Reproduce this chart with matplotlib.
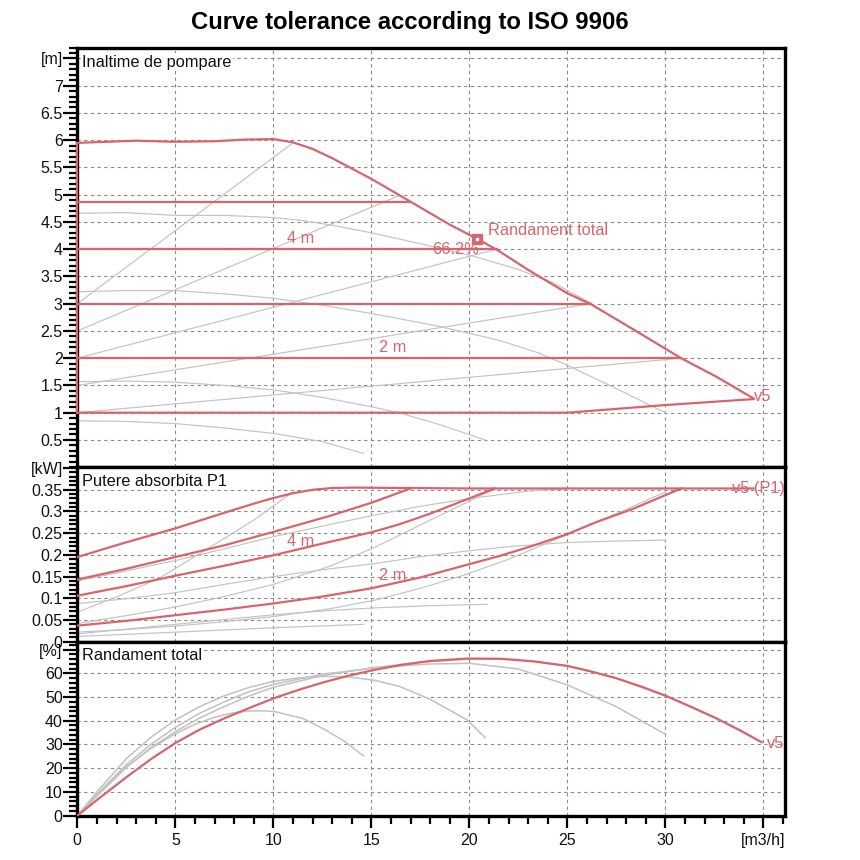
import matplotlib
matplotlib.use('Agg')
import matplotlib.pyplot as plt
from matplotlib.ticker import FixedLocator, MultipleLocator

plt.rcParams['font.family'] = ['Liberation Sans', 'DejaVu Sans']

# ---------------- data: head panel [m] ----------------
q_hmax = [0, 1.5, 3, 5, 7, 8.5, 10, 11, 12, 13, 14, 15, 16, 17, 18, 19, 20.4, 21.4, 23, 25, 26.2, 28.4, 30.8, 32.6, 34.5]
h_hmax = [5.95, 5.97, 5.99, 5.97, 5.98, 6.01, 6.02, 5.96, 5.84, 5.67, 5.48, 5.29, 5.08, 4.87, 4.66, 4.45, 4.19, 3.99, 3.62, 3.19, 2.99, 2.52, 2.00, 1.66, 1.26]
q_hmin = [0, 25, 30, 34.5]
h_hmin = [1.0, 1.0, 1.14, 1.25]
q_edge = [0, 0]
h_edge = [1.0, 5.95]
const_levels = [4.87, 4.0, 3.0, 2.0]
const_ends = [16.97, 21.4, 26.2, 30.8]

prop_q_start = [0, 0, 0, 0, 0]
prop_h_start = [3.0, 2.5, 2.0, 1.5, 1.0]
prop_q_end = [11.0, 16.46, 21.4, 26.2, 30.8]
prop_h_end = [5.95, 4.99, 4.0, 3.0, 2.0]

q_s1 = [0, 2.5, 5, 7.5, 10, 11.4, 13, 15, 17.5, 20.2, 22.4, 24.3, 26.2]
h_s1 = [4.66, 4.67, 4.62, 4.62, 4.58, 4.53, 4.44, 4.30, 4.10, 3.87, 3.64, 3.38, 3.01]
q_s2 = [0, 2.5, 5, 7.5, 10, 12.5, 15, 16.5, 18.5, 21.5, 23.5, 25, 27.5, 30]
h_s2 = [3.22, 3.24, 3.24, 3.18, 3.10, 2.97, 2.82, 2.72, 2.58, 2.33, 2.10, 1.87, 1.44, 1.0]
q_s3 = [0, 2.5, 5, 7.5, 10, 12.5, 15, 16.5, 18.5, 20.8]
h_s3 = [1.57, 1.58, 1.56, 1.50, 1.42, 1.28, 1.11, 0.99, 0.78, 0.50]
q_s4 = [0, 2.5, 5, 7.5, 10, 12.5, 14.6]
h_s4 = [0.85, 0.84, 0.80, 0.72, 0.62, 0.47, 0.25]

# ---------------- data: power panel [kW] ----------------
q_pmax = [0, 2.5, 5, 7.5, 9, 10, 11, 12, 13, 14, 20, 25, 30, 34.5]
p_pmax = [0.195, 0.229, 0.261, 0.297, 0.318, 0.331, 0.342, 0.350, 0.354, 0.355, 0.353, 0.353, 0.353, 0.353]
q_p487 = [0, 2.5, 5, 7.5, 10, 12.9, 15, 17.0]
p_p487 = [0.143, 0.168, 0.195, 0.222, 0.253, 0.290, 0.320, 0.353]
q_p4 = [0, 2.5, 5, 7.5, 10, 12.5, 15, 16.4, 18, 19.7, 21.3]
p_p4 = [0.106, 0.128, 0.152, 0.175, 0.199, 0.226, 0.252, 0.270, 0.295, 0.325, 0.353]
q_p2 = [0, 2.5, 5, 7.5, 10, 12.5, 15, 17.5, 19.7, 21.5, 23.1, 25, 26.5, 28.4, 30.8]
p_p2 = [0.037, 0.048, 0.061, 0.074, 0.088, 0.104, 0.123, 0.148, 0.175, 0.197, 0.219, 0.248, 0.276, 0.307, 0.353]

q_g1 = [0, 2.1, 4.2, 6.5, 9, 11.0]
p_g1 = [0.068, 0.105, 0.147, 0.210, 0.280, 0.345]
q_g2 = [0, 2.5, 5, 7.5, 10, 12.9, 15, 17.5, 20.2, 23, 25]
p_g2 = [0.140, 0.163, 0.187, 0.214, 0.242, 0.270, 0.290, 0.312, 0.331, 0.347, 0.352]
q_g3 = [0, 2.5, 5, 7.5, 10, 12.9, 15.2, 18, 21.2]
p_g3 = [0.042, 0.060, 0.080, 0.104, 0.132, 0.174, 0.218, 0.280, 0.350]
q_g4 = [0, 2.5, 5, 7.5, 10, 12.9, 15.2, 17.5, 19.7, 22, 24.8, 27.5, 30]
p_g4 = [0.088, 0.099, 0.113, 0.132, 0.150, 0.168, 0.180, 0.196, 0.208, 0.219, 0.228, 0.232, 0.234]
q_g5 = [0, 2.5, 5, 7.5, 10, 12.9, 15.2, 17.5, 19.7, 22, 24.8, 27.5, 30]
p_g5 = [0.022, 0.028, 0.036, 0.046, 0.058, 0.076, 0.096, 0.123, 0.153, 0.190, 0.243, 0.295, 0.345]
q_g6 = [0, 2.5, 5, 7.5, 10, 12.9, 15.2, 18, 20.9]
p_g6 = [0.018, 0.029, 0.040, 0.051, 0.062, 0.072, 0.078, 0.083, 0.086]
q_g7 = [0, 5, 10, 14.6]
p_g7 = [0.012, 0.022, 0.032, 0.040]

# ---------------- data: efficiency panel [%] ----------------
q_eff = [0, 1, 2.5, 3.75, 5, 6.25, 7.5, 8.75, 10.1, 11.4, 12.65, 13.9, 15.2, 16.5, 18, 19.9, 21.6, 23.3, 25, 26.2, 27.5, 28.8, 30.05, 31.3, 32.6, 33.8, 34.9]
e_eff = [0, 6.6, 16.2, 23.8, 30.6, 36.3, 41.0, 45.3, 49.7, 53.3, 56.4, 59.1, 61.5, 63.5, 65.2, 66.2, 66.1, 65.0, 63.1, 60.8, 57.9, 54.3, 50.4, 45.9, 41.0, 36.0, 31.0]
q_e1 = [0, 1, 2.4, 3.7, 5, 6, 7, 8, 8.7, 9.5, 10.1, 11.5, 12.6, 13.6, 14.6]
e_e1 = [0, 8.5, 20.0, 28.0, 34.5, 38.5, 41.5, 43.4, 44.1, 44.2, 43.8, 41.0, 36.4, 31.5, 25.2]
q_e2 = [0, 1, 2.5, 3.75, 5, 6.25, 7.5, 8.75, 10, 11.25, 12.5, 13.8, 15.2, 16.46, 18, 19.9, 20.8]
e_e2 = [0, 10.0, 24.0, 33.0, 40.3, 46.0, 50.5, 54.0, 56.6, 58.0, 58.7, 58.5, 57.0, 54.4, 49.0, 40.3, 32.9]
q_e3 = [0, 1, 2.5, 3.75, 5, 6.25, 7.5, 8.75, 10, 12.5, 15.2, 16.5, 18, 20, 22.5, 25, 27.5, 30]
e_e3 = [0, 9.0, 21.5, 30.0, 37.2, 43.2, 48.0, 52.2, 55.3, 59.6, 62.2, 63.1, 63.9, 64.2, 61.8, 55.1, 45.9, 34.3]
q_e4 = [0, 1, 2.5, 3.75, 5, 6.25, 7.5, 8.75, 10, 12.5, 15, 17.5, 20, 21.6, 23.3, 25, 27.5, 30.05, 32.6, 34.9]
e_e4 = [0, 8.3, 20.3, 28.6, 35.4, 41.2, 46.0, 50.4, 54.1, 59.0, 62.3, 64.6, 66.0, 66.1, 65.0, 63.1, 57.9, 50.4, 41.0, 31.0]

# ---------------- ticks ----------------
h_ticks = [0.5, 1, 1.5, 2, 2.5, 3, 3.5, 4, 4.5, 5, 5.5, 6, 6.5, 7, 7.5]
h_labels = ['0.5', '1', '1.5', '2', '2.5', '3', '3.5', '4', '4.5', '5', '5.5', '6', '6.5', '7', '[m]']
p_ticks = [0, 0.05, 0.1, 0.15, 0.2, 0.25, 0.3, 0.35, 0.4]
p_labels = ['0', '0.05', '0.1', '0.15', '0.2', '0.25', '0.3', '0.35', '[kW]']
e_ticks = [0, 10, 20, 30, 40, 50, 60, 70]
e_labels = ['0', '10', '20', '30', '40', '50', '60', '[%]']
x_ticks = [0, 5, 10, 15, 20, 25, 30, 35]
x_labels = ['0', '5', '10', '15', '20', '25', '30', '[m3/h]']

RED = '#d8646d'
GRAY = '#c3c3c3'
GRID = '#8a8a8a'
RLW = 1.6
GLW = 0.85
FS = 11.8

fig = plt.figure(figsize=(8.6, 8.6), dpi=100)
L, W = 77.3 / 860, (785 - 77.3) / 860
ax1 = fig.add_axes([L, 1 - 467.2 / 860, W, (467.2 - 47.5) / 860])
ax2 = fig.add_axes([L, 1 - 641.7 / 860, W, (641.7 - 467.2) / 860])
ax3 = fig.add_axes([L, 1 - 815.7 / 860, W, (815.7 - 641.7) / 860])

for ax in (ax1, ax2, ax3):
    ax.set_xlim(0, 36.1)
    ax.set_axisbelow(True)
    ax.xaxis.set_major_locator(FixedLocator(x_ticks))
    ax.grid(True, which='major', linestyle=(0, (3, 3)), color=GRID, linewidth=0.8)
    for s in ax.spines.values():
        s.set_linewidth(2.4)
        s.set_color('black')
    ax.tick_params(axis='y', which='major', direction='out', length=10, width=1.6,
                   labelsize=11.5, pad=0.5, colors='black', labelcolor='#111111')
    ax.tick_params(axis='y', which='minor', direction='out', length=6, width=1.6)

ax1.set_ylim(0, 7.7)
ax2.set_ylim(0, 0.402)
ax3.set_ylim(0, 73.3)

ax1.yaxis.set_major_locator(FixedLocator(h_ticks))
ax1.set_yticklabels(h_labels)
ax1.yaxis.set_minor_locator(MultipleLocator(0.1))
ax2.yaxis.set_major_locator(FixedLocator(p_ticks))
ax2.set_yticklabels(p_labels)
ax2.yaxis.set_minor_locator(MultipleLocator(0.01))
ax3.yaxis.set_major_locator(FixedLocator(e_ticks))
ax3.set_yticklabels(e_labels)
ax3.yaxis.set_minor_locator(MultipleLocator(2))

for ax in (ax1, ax2):
    ax.tick_params(axis='x', which='both', length=0, labelbottom=False)
ax3.set_xticklabels(x_labels)
ax3.xaxis.set_minor_locator(MultipleLocator(1))
ax3.tick_params(axis='x', which='major', direction='out', length=8.5, width=1.6,
                labelsize=11.5, pad=4, labelcolor='#111111')
ax3.tick_params(axis='x', which='minor', direction='out', length=5.5, width=1.6)

# ---- head panel ----
for qs, hs, qe, he in zip(prop_q_start, prop_h_start, prop_q_end, prop_h_end):
    ax1.plot([qs, qe], [hs, he], color=GRAY, lw=GLW, zorder=2)
for qq, hh in [(q_s1, h_s1), (q_s2, h_s2), (q_s3, h_s3), (q_s4, h_s4)]:
    ax1.plot(qq, hh, color=GRAY, lw=GLW, zorder=2)
for lev, qend in zip(const_levels, const_ends):
    ax1.plot([0, qend], [lev, lev], color=RED, lw=RLW, zorder=3)
ax1.plot(q_hmax, h_hmax, color=RED, lw=RLW, zorder=3)
ax1.plot(q_hmin, h_hmin, color=RED, lw=RLW, zorder=3)
ax1.plot(q_edge, h_edge, color=RED, lw=RLW, zorder=3, clip_on=False)
ax1.plot([20.4], [4.19], marker='s', ms=7, color=RED, zorder=5)
ax1.plot([20.4], [4.19], marker='s', ms=1.6, color='white', zorder=6)
ax1.text(20.94, 4.35, 'Randament total', color=RED, fontsize=FS, ha='left', va='center', zorder=6)
ax1.text(19.3, 4.0, '66.2%', color=RED, fontsize=FS, ha='center', va='center', zorder=6)
ax1.text(11.4, 4.19, '4 m', color=RED, fontsize=FS, ha='center', va='center', zorder=6)
ax1.text(16.1, 2.2, '2 m', color=RED, fontsize=FS, ha='center', va='center', zorder=6)
ax1.text(34.5, 1.29, 'v5', color=RED, fontsize=FS, ha='left', va='center', zorder=6)
ax1.text(0.24, 7.43, 'Inaltime de pompare', fontsize=FS, ha='left', va='center', color='#111111',
         bbox=dict(facecolor='white', edgecolor='none', pad=1), zorder=7)

# ---- power panel ----
for qq, pp in [(q_g1, p_g1), (q_g2, p_g2), (q_g3, p_g3), (q_g4, p_g4),
               (q_g5, p_g5), (q_g6, p_g6), (q_g7, p_g7)]:
    ax2.plot(qq, pp, color=GRAY, lw=GLW, zorder=2)
for qq, pp in [(q_pmax, p_pmax), (q_p487, p_p487), (q_p4, p_p4), (q_p2, p_p2)]:
    ax2.plot(qq, pp, color=RED, lw=RLW, zorder=3)
ax2.text(11.4, 0.230, '4 m', color=RED, fontsize=FS, ha='center', va='center', zorder=6)
ax2.text(16.1, 0.153, '2 m', color=RED, fontsize=FS, ha='center', va='center', zorder=6)
ax2.text(33.4, 0.353, 'v5 (P1)', color=RED, fontsize=FS, ha='left', va='center', zorder=6)
ax2.text(0.22, 0.370, 'Putere absorbita P1', fontsize=FS, ha='left', va='center', color='#111111',
         bbox=dict(facecolor='white', edgecolor='none', pad=1), zorder=7)

# ---- efficiency panel ----
for qq, ee in [(q_e1, e_e1), (q_e2, e_e2), (q_e3, e_e3), (q_e4, e_e4)]:
    ax3.plot(qq, ee, color=GRAY, lw=GLW + 0.3, zorder=2)
ax3.plot(q_eff, e_eff, color=RED, lw=RLW, zorder=3)
ax3.text(35.2, 30.6, 'v5', color=RED, fontsize=FS, ha='left', va='center', zorder=6)
ax3.text(0.22, 67.3, 'Randament total', fontsize=FS, ha='left', va='center', color='#111111',
         bbox=dict(facecolor='white', edgecolor='none', pad=1), zorder=7)

fig.text(410 / 860, 1 - 22 / 860, 'Curve tolerance according to ISO 9906',
         ha='center', va='center', fontsize=17.2, fontweight='bold')

fig.savefig('out.png', dpi=100)
